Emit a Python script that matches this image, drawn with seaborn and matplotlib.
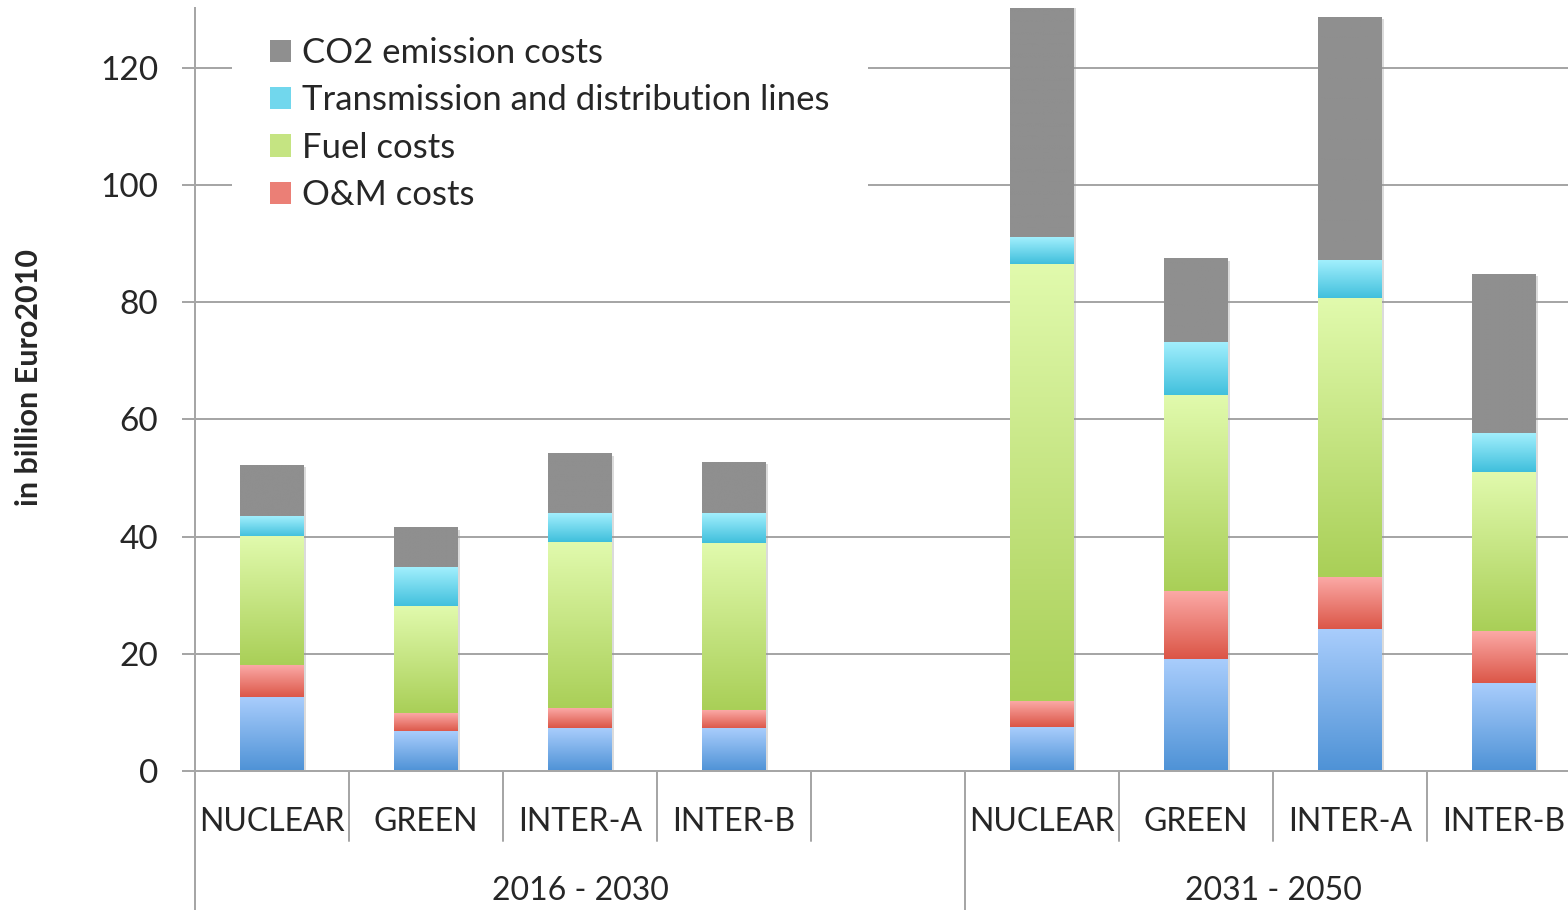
import numpy as np
import pandas as pd
import matplotlib
matplotlib.use("Agg")
import matplotlib.pyplot as plt
import matplotlib.transforms as mtransforms
import matplotlib.patheffects as pe
from matplotlib.colors import LinearSegmentedColormap, to_rgb
from matplotlib.patches import Patch
import seaborn as sns

# ---- data -------------------------------------------------------------
periods = ["2016 - 2030", "2031 - 2050"]
scenarios = ["NUCLEAR", "GREEN", "INTER-A", "INTER-B"]

investment = [12.5, 6.7, 7.3, 7.2, 7.5, 19.1, 24.1, 14.9]
om_costs = [5.6, 3.2, 3.3, 3.2, 4.3, 11.6, 9.0, 9.0]
fuel_costs = [21.9, 18.1, 28.5, 28.5, 74.7, 33.3, 47.5, 27.1]
td_lines = [3.5, 6.8, 4.9, 5.0, 4.5, 9.2, 6.5, 6.5]
co2_costs = [8.7, 6.7, 10.1, 8.8, 41.0, 14.2, 41.6, 27.3]

y_ticks = [0, 20, 40, 60, 80, 100, 120]
y_label = "in billion Euro2010"

# series in stacking order (bottom -> top): name, values, top colour, bottom colour
layers = [
    ("Investment costs", investment, "#a9cdfc", "#4e92d6"),
    ("O&M costs", om_costs, "#fba9a6", "#db5546"),
    ("Fuel costs", fuel_costs, "#e1faad", "#a9cf57"),
    ("Transmission and distribution lines", td_lines, "#a2effd", "#3fbfdc"),
    ("CO2 emission costs", co2_costs, "#8f8f8f", "#8f8f8f"),
]
legend_names = ["CO2 emission costs", "Transmission and distribution lines",
                "Fuel costs", "O&M costs"]

# ---- table ------------------------------------------------------------
keys = [f"{p}|{s}" for p in periods for s in scenarios]
order = keys[:4] + ["gap"] + keys[4:] + ["tail"]
df = pd.DataFrame({"key": keys})
cum = np.zeros(len(keys))
bounds = []
for name, vals, _, _ in layers:
    lower = cum.copy()
    cum = cum + np.asarray(vals, dtype=float)
    df[name] = cum
    bounds.append((lower, cum.copy()))

# ---- figure -----------------------------------------------------------
sns.set_style("white")
plt.rcParams["font.family"] = ["Lato", "DejaVu Sans"]

W, H = 1568, 910
PT = 72 / 100  # points per pixel at dpi 100
fig = plt.figure(figsize=(W / 100, H / 100), dpi=100)
ax = fig.add_axes([195 / W, (H - 771) / H, 1 - 195 / W, (771 - 8) / H])

grid_c = "#a6a6a6"
line_w = 2 * PT
bar_w = 0.41

# stacked bars: cumulative totals drawn from the top layer down
grad = np.linspace(0, 1, 256).reshape(-1, 1)
for li in range(len(layers) - 1, -1, -1):
    name, _, c_top, c_bot = layers[li]
    n_before = len(ax.patches)
    sns.barplot(data=df, x="key", y=name, order=order, width=bar_w,
                color=c_bot, saturation=1, errorbar=None, ax=ax,
                linewidth=0, zorder=2)
    new = ax.patches[n_before:]
    lower, upper = bounds[li]
    cmap = LinearSegmentedColormap.from_list(name, [c_bot, c_top])
    for p in new:
        if li == len(layers) - 1:
            # soft drop shadow around the full stack
            p.set_path_effects([pe.SimplePatchShadow(offset=(1.5, -1.5),
                                                     shadow_rgbFace="#9a9a9a",
                                                     alpha=0.35),
                                pe.Normal()])
        idx = int(round(p.get_x() + p.get_width() / 2))
        key = order[idx]
        if key not in keys:
            continue
        k = keys.index(key)
        ax.imshow(grad, cmap=cmap, origin="lower", aspect="auto",
                  extent=[p.get_x(), p.get_x() + p.get_width(), lower[k], upper[k]],
                  zorder=3, interpolation="bilinear")

ax.set_xlim(-0.5, -0.5 + (W - 195) / 154)
ax.set_ylim(0, (771 - 8) / (117.17 / 20))
ax.set_yticks(y_ticks)
ax.set_yticklabels([str(t) for t in y_ticks], fontsize=24)
ax.set_xticks([])
ax.set_xlabel("")
ax.set_ylabel("")

ax.yaxis.grid(True, color=grid_c, linewidth=line_w)
ax.set_axisbelow(True)
ax.tick_params(axis="y", length=13 * PT, width=line_w, color=grid_c,
               pad=24 * PT, left=True)
for s in ["top", "right"]:
    ax.spines[s].set_visible(False)
for s in ["left", "bottom"]:
    ax.spines[s].set_color(grid_c)
    ax.spines[s].set_linewidth(line_w)
ax.spines["bottom"].set_zorder(4)

fig.text(29 / W, (H - 378) / H, y_label, rotation=90, ha="center", va="center",
         fontsize=22, fontweight="bold")

# two-level category axis
trans = mtransforms.blended_transform_factory(ax.transData, ax.transAxes)
ax_h = (771 - 8)


def ay(px):
    return (771 - px) / ax_h


ax.plot([-0.5, -0.5], [0, ay(910)], transform=trans, color=grid_c, lw=line_w,
        clip_on=False, zorder=4)
ax.plot([4.5, 4.5], [0, ay(910)], transform=trans, color=grid_c, lw=line_w,
        clip_on=False, zorder=4)
for b in [0.5, 1.5, 2.5, 3.5, 5.5, 6.5, 7.5]:
    ax.plot([b, b], [0, ay(841)], transform=trans, color=grid_c, lw=line_w,
            clip_on=False, zorder=4)

for i, key in enumerate(order):
    if key in keys:
        ax.text(i, ay(822), key.split("|")[1], transform=trans, ha="center",
                va="center", fontsize=23, clip_on=False)
ax.text(2.0, ay(891), periods[0], transform=trans, ha="center", va="center",
        fontsize=23, clip_on=False)
ax.text(6.5, ay(891), periods[1], transform=trans, ha="center", va="center",
        fontsize=23, clip_on=False)

# legend
handles = []
for nm in legend_names:
    _, _, c_top, c_bot = [l for l in layers if l[0] == nm][0]
    mid = tuple((np.array(to_rgb(c_top)) + np.array(to_rgb(c_bot))) / 2)
    handles.append(Patch(facecolor=mid, edgecolor="none", label=nm))
leg = ax.legend(handles=handles, loc="upper left",
                bbox_to_anchor=((232 - 195) / (W - 195), 1 + 9 / ax_h),
                frameon=True, fontsize=25, handlelength=0.6, handleheight=0.6,
                handletextpad=0.32, labelspacing=0.44, borderpad=1.1,
                borderaxespad=0)
leg.get_frame().set_facecolor("white")
leg.get_frame().set_edgecolor("none")
leg.get_frame().set_alpha(1)
leg.get_frame().set_boxstyle("square", pad=0)
leg.set_zorder(5)

fig.savefig("out.png", dpi=100, facecolor="white")
